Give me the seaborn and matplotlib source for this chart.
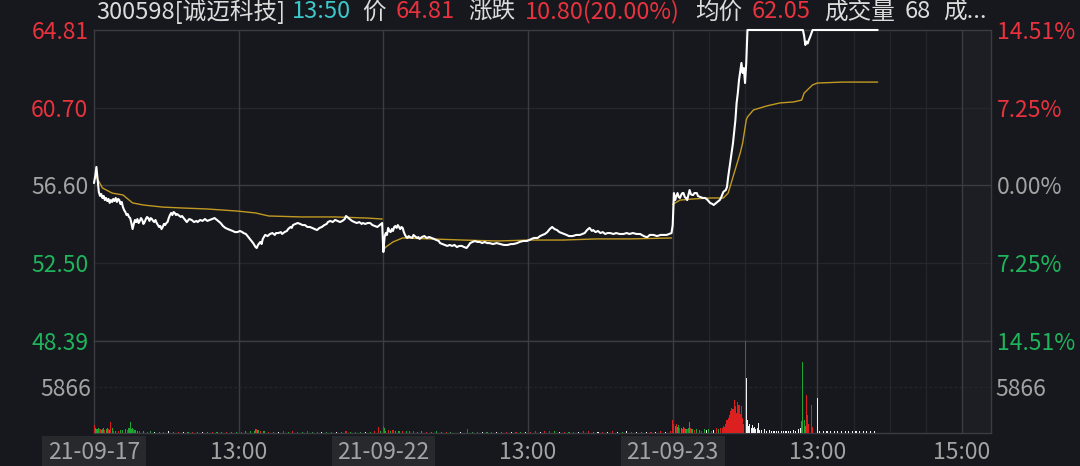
import numpy as np
import pandas as pd
import seaborn as sns
import matplotlib
matplotlib.use('Agg')
import matplotlib.pyplot as plt

# ---- data: (minute since first open, price); 240 minutes per day ----
p1 = [(0, 56.73), (1, 57.10), (2, 57.58), (3, 56.89), (4, 56.26), (5, 56.05), (6, 56.15), (7, 55.94), (8, 56.05), (9, 55.83),
      (10, 55.94), (11, 55.78), (12, 55.89), (13, 55.68), (14, 55.83), (15, 55.73), (16, 55.89), (17, 55.78), (18, 55.94), (19, 55.73),
      (20, 55.89), (21, 55.83), (22, 55.62), (23, 55.73), (24, 55.46), (25, 55.30), (26, 55.20), (27, 55.04), (28, 55.09), (29, 54.94),
      (30, 54.88), (31, 54.62), (32, 54.30), (33, 54.57), (34, 54.78), (35, 54.67), (36, 54.83), (37, 54.62), (38, 54.73), (39, 54.88),
      (40, 54.78), (41, 54.57), (42, 54.67), (43, 54.83), (44, 54.94), (45, 54.88), (46, 54.73), (47, 54.88), (48, 54.83), (49, 54.73),
      (50, 54.67), (51, 54.78), (52, 54.62), (53, 54.51), (54, 54.41), (55, 54.46), (56, 54.30), (57, 54.41), (58, 54.57), (59, 54.51),
      (60, 54.62), (61, 54.67), (62, 54.88), (63, 55.04), (64, 55.15), (65, 55.04), (66, 55.20), (67, 55.15), (68, 55.04), (69, 55.09),
      (70, 55.04), (72, 54.94), (73, 54.99), (75, 54.83), (77, 54.67), (79, 54.83), (81, 54.78), (83, 54.67), (85, 54.73), (86, 54.67),
      (88, 54.78), (90, 54.73), (92, 54.83), (94, 54.73), (96, 54.78), (98, 54.83), (100, 54.88), (102, 54.78), (104, 54.67), (105, 54.62),
      (107, 54.46), (109, 54.36), (111, 54.30), (113, 54.25), (115, 54.20), (117, 54.14), (119, 54.14), (121, 54.20), (123, 54.14), (124, 54.09),
      (126, 54.04), (128, 53.88), (130, 53.72), (132, 53.56), (134, 53.35), (135, 53.30), (136, 53.46), (138, 53.62), (139, 53.51), (140, 53.78),
      (142, 53.99), (144, 53.93), (146, 54.04), (148, 54.09), (150, 53.99), (151, 54.09), (153, 54.09), (155, 54.14), (156, 54.04), (158, 54.14),
      (160, 54.20), (161, 54.30), (163, 54.41), (164, 54.36), (165, 54.51), (167, 54.57), (169, 54.62), (171, 54.57), (173, 54.51), (175, 54.51),
      (177, 54.41), (179, 54.41), (181, 54.36), (183, 54.30), (185, 54.25), (187, 54.36), (189, 54.41), (191, 54.51), (193, 54.57), (194, 54.67),
      (196, 54.73), (198, 54.67), (200, 54.78), (202, 54.73), (204, 54.67), (206, 54.73), (208, 54.83), (209, 54.99), (210, 54.94), (212, 54.83),
      (214, 54.73), (216, 54.67), (218, 54.62), (220, 54.67), (222, 54.57), (223, 54.62), (225, 54.57), (227, 54.62), (229, 54.62), (231, 54.51),
      (233, 54.46), (235, 54.41), (237, 54.51), (239, 54.62)]

p2 = [(240, 53.09), (241, 53.88), (242, 54.09), (243, 53.99), (244, 54.36), (245, 54.20), (246, 54.14), (247, 54.30), (248, 54.20), (249, 54.41),
      (250, 54.46), (251, 54.36), (252, 54.51), (253, 54.41), (254, 54.30), (255, 54.41), (256, 54.36), (257, 54.14), (258, 53.99), (259, 53.88),
      (260, 53.83), (261, 53.93), (262, 53.88), (264, 53.83), (265, 53.99), (266, 53.93), (268, 53.83), (269, 53.88), (270, 53.78), (272, 53.88),
      (274, 53.93), (276, 53.83), (278, 53.88), (280, 53.83), (282, 53.78), (284, 53.72), (286, 53.67), (287, 53.56), (289, 53.51), (291, 53.46),
      (293, 53.41), (295, 53.46), (297, 53.41), (299, 53.46), (301, 53.35), (303, 53.41), (305, 53.41), (307, 53.35), (309, 53.30), (311, 53.46),
      (312, 53.56), (314, 53.62), (316, 53.67), (318, 53.62), (320, 53.62), (322, 53.56), (324, 53.62), (326, 53.56), (328, 53.56), (331, 53.51),
      (334, 53.56), (337, 53.51), (340, 53.46), (343, 53.46), (346, 53.51), (348, 53.51), (351, 53.56), (353, 53.62), (356, 53.67), (359, 53.67),
      (361, 53.72), (363, 53.78), (365, 53.83), (368, 53.83), (370, 53.93), (372, 53.99), (374, 54.04), (376, 54.14), (378, 54.30), (380, 54.41),
      (382, 54.30), (384, 54.25), (386, 54.14), (388, 54.09), (390, 54.04), (392, 53.99), (394, 53.93), (397, 53.93), (400, 53.99), (403, 53.99),
      (405, 54.04), (407, 54.09), (409, 54.25), (411, 54.36), (413, 54.20), (414, 54.25), (416, 54.14), (418, 54.20), (420, 54.09), (422, 54.14),
      (424, 54.04), (426, 54.09), (428, 54.09), (431, 54.04), (433, 54.09), (436, 54.04), (439, 54.04), (442, 54.09), (444, 54.04), (447, 54.09),
      (450, 54.04), (453, 54.04), (456, 53.93), (458, 53.88), (459, 53.88), (461, 53.99), (464, 53.99), (467, 53.93), (470, 53.99), (473, 53.99),
      (475, 53.99), (477, 54.04), (479, 54.09)]

p3 = [(480, 54.51), (481, 56.20), (482, 55.83), (483, 56.04), (484, 56.20), (485, 55.99), (486, 55.94), (487, 56.10), (488, 56.20), (489, 56.20),
      (490, 55.99), (491, 55.94), (492, 55.83), (493, 56.10), (494, 56.36), (495, 56.15), (496, 56.10), (497, 56.10), (498, 56.20), (500, 56.20),
      (501, 56.04), (503, 55.99), (505, 55.94), (507, 55.94), (509, 55.83), (511, 55.68), (513, 55.62), (514, 55.57), (516, 55.68), (517, 55.73),
      (519, 55.83), (520, 55.94), (522, 56.26), (524, 56.36), (525, 56.52), (526, 57.05), (528, 57.95), (530, 58.84), (532, 60.06), (533, 60.96),
      (534, 61.48), (535, 62.17), (537, 63.07), (538, 62.54), (539, 62.80), (540, 62.01), (541, 63.07), (542, 64.81), (555, 64.81), (570, 64.81),
      (588, 64.81), (589, 64.50), (590, 64.02), (591, 64.20), (592, 64.10), (593, 64.30), (594, 64.45), (596, 64.81), (610, 64.81), (630, 64.81),
      (650, 64.81)]

# average price line, one per day
a1 = [(0, 56.90), (2, 57.05), (7, 56.47), (15, 56.20), (24, 56.10), (32, 55.68), (41, 55.57), (57, 55.46), (74, 55.41), (94, 55.36),
      (119, 55.25), (134, 55.15), (145, 54.99), (172, 54.94), (200, 54.94), (227, 54.88), (239, 54.83)]
a2 = [(240, 53.20), (242, 53.35), (248, 53.62), (256, 53.83), (279, 53.78), (306, 53.72), (334, 53.67), (362, 53.72), (389, 53.72),
      (417, 53.78), (445, 53.78), (479, 53.83)]
a3 = [(480, 55.60), (486, 55.83), (497, 55.89), (511, 55.94), (522, 55.94), (526, 56.20), (530, 57.05), (536, 58.32), (538, 58.84),
      (541, 60.06), (542, 60.22), (547, 60.59), (558, 60.80), (569, 60.96), (580, 61.01), (587, 61.11), (589, 61.48), (596, 61.91),
      (600, 62.01), (621, 62.06), (650, 62.06)]

# volume bars: minute, shares, direction (r up / g down / w flat)
v1_min = [0, 1, 2, 3, 4, 5, 6, 7, 8, 9, 10, 11, 12, 13, 14, 15, 16, 18, 20, 22,
          24, 26, 28, 29, 30, 31, 32, 33, 34, 36, 38, 41, 44, 47, 50, 54, 58, 62, 66, 70,
          74, 78, 82, 86, 90, 94, 98, 102, 106, 110, 114, 118, 122, 126, 130, 133, 134, 135, 136, 138,
          141, 145, 149, 153, 157, 161, 165, 169, 173, 177, 181, 185, 189, 193, 197, 201, 205, 209, 213, 217,
          221, 225, 229, 233, 236, 238]
v1_val = [1000, 600, 550, 450, 650, 500, 400, 500, 600, 350, 450, 700, 500, 400, 1450, 600, 300, 250, 300, 350,
          400, 550, 400, 700, 1450, 500, 650, 450, 350, 300, 250, 200, 180, 200, 150, 180, 150, 200, 150, 170,
          150, 120, 150, 130, 120, 140, 120, 150, 140, 120, 150, 130, 160, 200, 250, 300, 450, 500, 350, 300,
          200, 150, 180, 150, 200, 150, 200, 180, 150, 200, 150, 170, 150, 180, 150, 130, 150, 200, 150, 170,
          150, 130, 150, 200, 800, 250]
v1_dir = "rggggrgggr" "ggrgrgrgrg" "ggrggggrgg" "rgrgwgrwgr" "wgrgwgrggr" "ggrggggrgr" "grgwrgrrgr" "grwgrwgrgr" "gwgrrg"

v2_min = [240, 241, 242, 244, 246, 248, 250, 253, 256, 259, 262, 265, 268, 272, 276, 280, 284, 288, 292, 296,
          304, 310, 314, 318, 322, 326, 330, 334, 338, 342, 346, 350, 354, 358, 362, 366, 370, 374, 378, 382,
          386, 390, 394, 398, 402, 406, 410, 414, 418, 422, 426, 430, 434, 438, 442, 446, 450, 454, 458, 462,
          466, 470, 474, 478]
v2_val = [900, 600, 300, 400, 250, 350, 200, 250, 200, 300, 200, 250, 150, 200, 150, 180, 200, 150, 180, 150,
          150, 500, 150, 180, 150, 130, 150, 130, 150, 120, 150, 130, 150, 130, 150, 200, 180, 200, 250, 200,
          150, 180, 150, 180, 150, 200, 250, 180, 150, 170, 150, 200, 180, 150, 200, 170, 150, 180, 160, 180,
          150, 200, 170, 250]
v2_dir = "rggrgrggrg" "grggrgggrg" "wrgrwgrwgr" "wrgwrrwrrg" "wrgrwrrgwr" "wrwgwrwgwr" "wrwr"

v3_min = [480, 481, 482, 483, 484, 485, 486, 487, 488, 489, 490, 491, 492, 493, 494, 495, 496, 498, 500, 502,
          504, 506, 508, 510, 512, 514, 516, 518, 520, 521, 522, 523, 524, 525, 526, 527, 528, 529, 530, 531,
          532, 533, 534, 535, 536, 537, 538, 539, 540, 541, 542, 543, 544, 545, 546, 547, 548, 549, 550, 551,
          552, 554, 556, 558, 560, 562, 564, 566, 568, 570, 572, 574, 576, 578, 580, 582, 584, 586, 587, 588,
          589, 590, 591, 592, 593, 595, 596, 600, 602, 605, 608, 611, 614, 617, 620, 623, 626, 629, 632, 635,
          638, 641, 644, 647]
v3_val = [1700, 1100, 900, 1200, 800, 1000, 600, 700, 500, 800, 600, 500, 450, 600, 1400, 700, 500, 400, 550, 350,
          300, 450, 350, 500, 300, 400, 600, 500, 700, 700, 900, 800, 1200, 1600, 1900, 2300, 2800, 3200, 3000, 4200,
          3400, 2600, 3900, 3600, 2400, 3400, 1900, 1100, 11800, 7000, 1600, 900, 1200, 700, 1000, 600, 800, 500, 700, 1300,
          400, 350, 500, 300, 350, 300, 250, 300, 250, 300, 250, 300, 250, 300, 350, 300, 500, 700, 1500, 9100,
          1600, 900, 4800, 2300, 1200, 3600, 800, 4500, 300, 250, 250, 200, 250, 200, 250, 200, 250, 200, 250, 200,
          250, 300, 250, 200]
v3_dir = ("rrgrggrgrg" "rgrggrgrgg" "rgwgrwrgrr" "rrrrrrrrrr" "rrrrrrrrrw" "wwwwwwwwww"
          "wwwwwwwwww" "wwwwwwwwgg" "ggrrrrrwww" "wwwwwwwwww" "wwww")

prev_close = 56.60
price_ticks = [48.39, 52.50, 56.60, 60.70, 64.81]
pct_labels = ['14.51%', '7.25%', '0.00%', '7.25%', '14.51%']
vol_tick = 5866
x_ticks = [0, 120, 240, 360, 480, 600, 720]
x_labels = ['21-09-17', '13:00', '21-09-22', '13:00', '21-09-23', '13:00', '15:00']
header = [('300598[诚迈科技]', 'w'), ('13:50', 'c'), ('价', 'w'), ('64.81', 'r'), ('涨跌', 'w'),
          ('10.80(20.00%)', 'r'), ('均价', 'w'), ('62.05', 'r'), ('成交量', 'w'), ('68', 'w'), ('成...', 'w')]

BG = '#16181d'
GRID = '#25272c'
GRID_MAIN = '#3a3c42'
RED = '#e8323e'
GREEN = '#1fb45c'
GREY = '#a3a3a3'
HEAD = '#dcdcdc'
CYAN = '#3cc8c8'
GOLD = '#c29a22'
bar_colors = {'r': '#dc2020', 'g': '#1fa532', 'w': '#f0f0f0'}
head_colors = {'w': HEAD, 'c': CYAN, 'r': RED}

sns.set_theme(style='dark', rc={'axes.facecolor': BG, 'figure.facecolor': BG})
plt.rcParams['font.family'] = ['Noto Sans CJK SC', 'DejaVu Sans']

W, H = 1080, 466
fig = plt.figure(figsize=(W / 100, H / 100), dpi=100, facecolor=BG)


def fx(px):
    return px / W


def fy(py):
    return 1 - py / H


ax = fig.add_axes([fx(94), fy(341), fx(897), 311 / H])
axv = fig.add_axes([fx(94), fy(433), fx(897), 92 / H], sharex=ax)

price = pd.DataFrame(p1 + p2 + p3, columns=['minute', 'price'])
avg_days = [pd.DataFrame(a, columns=['minute', 'avg']) for a in (a1, a2, a3)]
vol = pd.DataFrame({'minute': v1_min + v2_min + v3_min,
                    'volume': v1_val + v2_val + v3_val,
                    'dir': list(v1_dir + v2_dir + v3_dir)})

# grid
for yv in price_ticks[1:-1]:
    ax.axhline(yv, color=GRID_MAIN if yv == prev_close else GRID, lw=1.0, zorder=1)
for xv in x_ticks[1:]:
    ax.axvline(xv, color=GRID_MAIN, lw=1.0, zorder=1)
    axv.axvline(xv, color=GRID_MAIN, lw=1.0, zorder=1)
for xv in [510, 540, 570, 630, 660, 690]:
    ax.axvline(xv, color=GRID, lw=0.9, zorder=1)
    axv.axvline(xv, color=GRID, lw=0.9, zorder=1)
ax.axvspan(720, 744, color='#1c1e23', zorder=0)
axv.axvspan(720, 744, color='#1c1e23', zorder=0)
axv.axhline(vol_tick, color=GRID, lw=0.9, ls=(0, (2, 2)), zorder=1)

# price + average lines
for d in avg_days:
    sns.lineplot(data=d, x='minute', y='avg', color=GOLD, lw=1.0, ax=ax, zorder=3)
sns.lineplot(data=price, x='minute', y='price', color='white', lw=1.5, ax=ax, zorder=4, clip_on=False)

# volume
axv.bar(vol['minute'], vol['volume'], width=0.9, color=[bar_colors[c] for c in vol['dir']],
        linewidth=0, zorder=3)

ax.set_xlim(0, 744)
ax.set_ylim(price_ticks[0], price_ticks[-1])
axv.set_ylim(0, 2 * vol_tick)

for a in (ax, axv):
    a.set_xlabel('')
    a.set_ylabel('')
    for s in a.spines.values():
        s.set_color(GRID_MAIN)
        s.set_linewidth(1.0)
    a.grid(False)

FS = 16.5
tick_colors = [GREEN, GREEN, GREY, RED, RED]
ax.set_yticks(price_ticks)
ax.set_yticklabels([f'{v:.2f}' for v in price_ticks], fontsize=FS)
for lab, c in zip(ax.get_yticklabels(), tick_colors):
    lab.set_color(c)
ax.tick_params(axis='y', length=0, pad=4)
ax.tick_params(axis='x', length=0, labelbottom=False)

axr = ax.twinx()
axr.set_ylim(ax.get_ylim())
axr.set_yticks(price_ticks)
axr.set_yticklabels(pct_labels, fontsize=FS)
for lab, c in zip(axr.get_yticklabels(), tick_colors):
    lab.set_color(c)
axr.tick_params(axis='y', length=0, pad=4)
axr.grid(False)
for s in axr.spines.values():
    s.set_visible(False)

axv.set_yticks([vol_tick])
axv.set_yticklabels([str(vol_tick)], fontsize=FS, color=GREY)
axv.tick_params(axis='y', length=0, pad=2)
axvr = axv.twinx()
axvr.set_ylim(axv.get_ylim())
axvr.set_yticks([vol_tick])
axvr.set_yticklabels([str(vol_tick)], fontsize=FS, color=GREY)
axvr.tick_params(axis='y', length=0, pad=3)
axvr.grid(False)
for s in axvr.spines.values():
    s.set_visible(False)

axv.set_xticks(x_ticks)
axv.set_xticklabels(x_labels, fontsize=FS, color=GREY)
axv.tick_params(axis='x', length=0, pad=6)
for lab in axv.get_xticklabels():
    if '-' in lab.get_text():
        lab.set_bbox(dict(facecolor='#27292d', edgecolor='none', boxstyle='square,pad=0.25'))

# header line
hx = [96, 292, 362, 396, 468, 525, 695, 752, 824, 905, 943]
for (txt, c), x in zip(header, hx):
    fig.text(fx(x), fy(12), txt, color=head_colors[c], fontsize=17, ha='left', va='center')

fig.savefig('out.png', dpi=100, facecolor=BG)
